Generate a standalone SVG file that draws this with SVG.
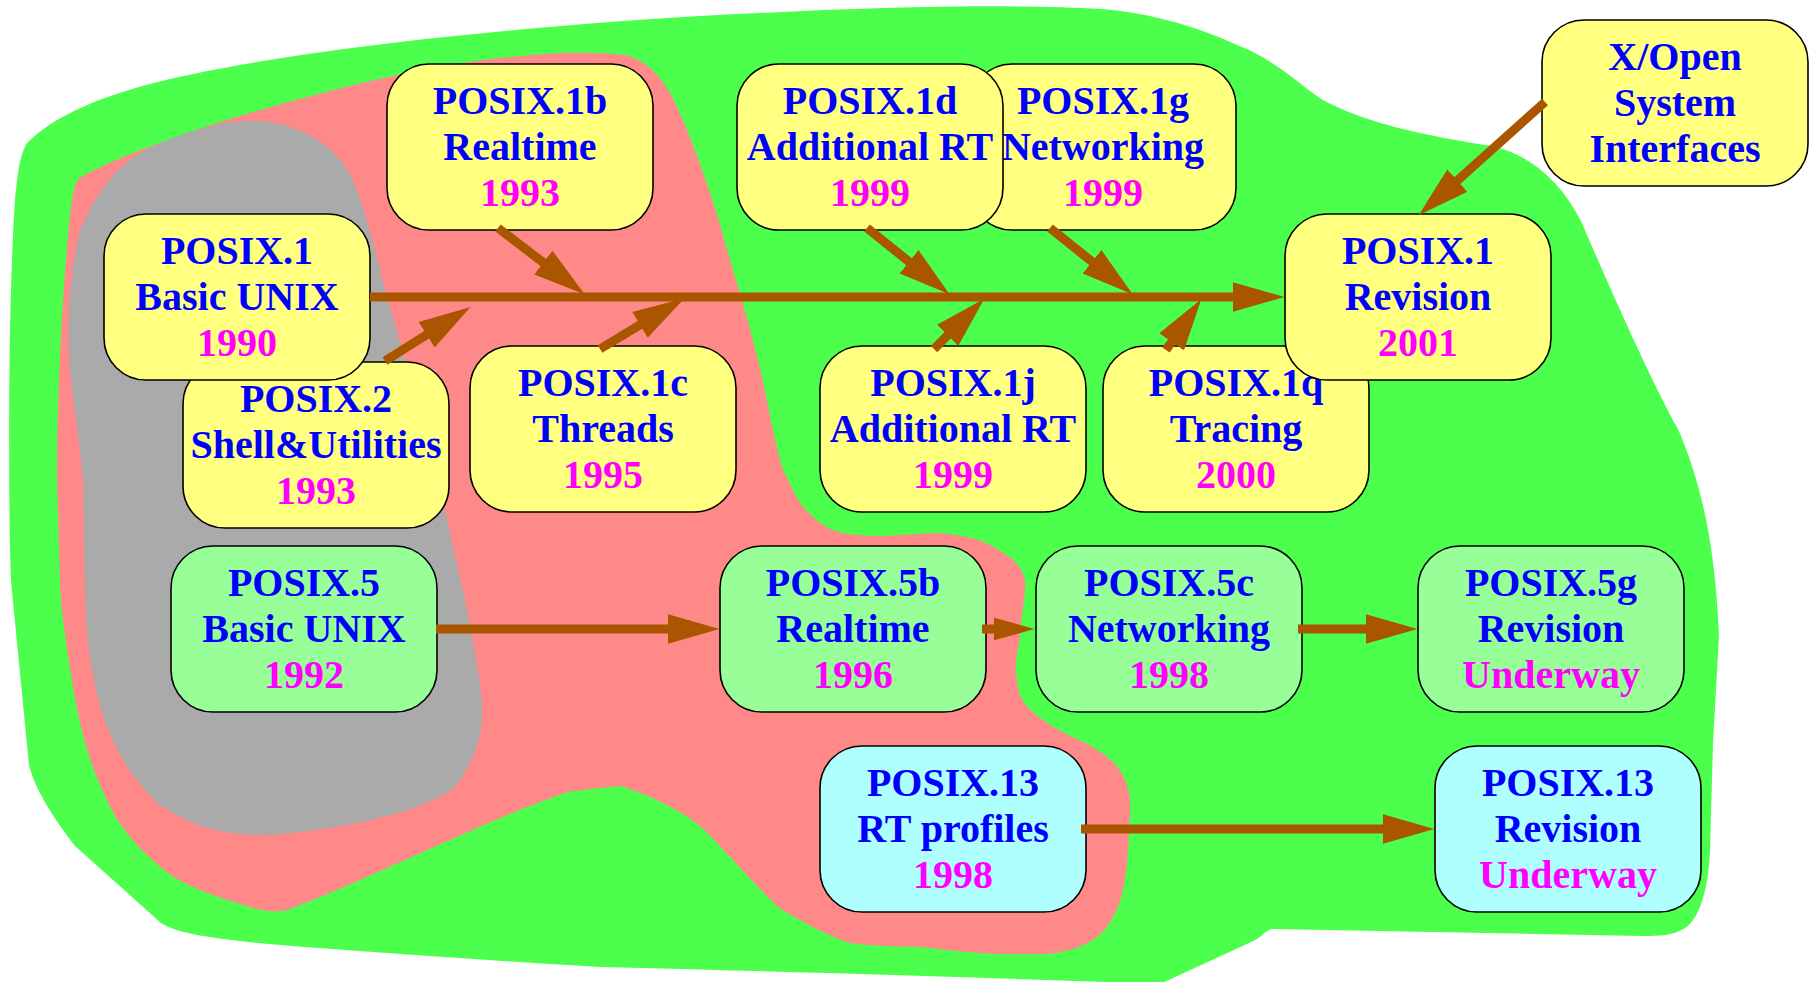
<svg xmlns="http://www.w3.org/2000/svg" width="1809" height="982" viewBox="0 0 1809 982">
<defs>
<style>
.box{stroke:#000;stroke-width:1.6}
.y{fill:#ffff80}
.g{fill:#98ff98}
.c{fill:#b0ffff}
text{font-family:"Liberation Serif","Times New Roman",serif;font-weight:bold;font-size:40px;text-anchor:middle}
.t{fill:#0000ff}
.d{fill:#ff00ff}
.conn{stroke:#aa5500;stroke-width:9;fill:none}
</style>
<marker id="ah" markerUnits="userSpaceOnUse" viewBox="0 -16 54 32" refX="0.5" refY="0" markerWidth="54" markerHeight="32" orient="auto">
<path d="M0,-15 L52,0 L0,15 Z" fill="#aa5500"/>
</marker>
<marker id="ahs" markerUnits="userSpaceOnUse" viewBox="0 -13 43 26" refX="0.5" refY="0" markerWidth="43" markerHeight="26" orient="auto">
<path d="M0,-11.5 L41,0 L0,11.5 Z" fill="#aa5500"/>
</marker>
</defs>
<rect width="1809" height="982" fill="#ffffff"/>
<g id="background">
<path fill="#4dff4d" d="M27,143 C60,110 120,90 179,77 C300,50 500,28 700,16 C850,8 1000,3 1102,9 C1170,15 1215,35 1249,50 C1290,70 1310,95 1331,104 C1360,118 1400,132 1492,146 C1530,155 1560,180 1581,221 C1600,265 1650,380 1678,429 C1700,480 1715,540 1719,636 L1713,743 L1710,851 C1708,890 1700,915 1688,926 C1675,936 1660,936 1642,936 L1272,929 C1265,930 1262,938 1249,943 L1160,984 C1000,978 800,972 600,967 C450,958 300,947 258,943 C200,937 175,932 161,923 L75,846 C55,820 35,790 29,765 L11,581 C8,500 8,300 15,200 C18,170 20,155 27,143 Z"/>
<path fill="#ff8888" d="M78,179 C100,165 150,145 223,121 C300,98 400,70 491,59 C540,54 580,50 625,55 C645,60 660,75 670,93 C685,120 715,200 727,250 C745,310 760,360 771,422 C778,450 780,465 786,476 C795,495 800,505 807,511 C820,525 830,530 843,533 C860,536 875,536 886,536 C905,535 925,533 939,533 C960,535 975,538 986,543 C1000,550 1012,558 1018,565 C1025,575 1026,582 1025,590 C1023,610 1020,625 1020,636 C1018,650 1015,660 1016,672 C1017,688 1020,698 1025,704 C1032,712 1040,718 1046,722 C1060,732 1080,740 1093,747 C1105,755 1115,762 1121,772 C1128,785 1131,795 1130,808 C1129,835 1128,860 1125,879 C1122,895 1120,905 1114,915 C1108,928 1100,935 1093,940 C1080,948 1062,953 1046,954 L993,954 C960,952 940,949 921,947 C890,946 870,946 850,943 C825,935 800,920 779,908 C755,885 725,850 700,826 C680,810 650,795 621,786 L600,788 C585,790 575,791 568,792 C530,805 490,822 459,836 C400,862 340,890 287,910 C275,913 260,911 247,906 C220,898 195,890 172,876 C150,860 130,840 115,816 C95,780 82,740 75,698 C65,640 60,600 60,581 L57,480 C57,400 62,300 67,250 C70,210 72,190 78,179 Z"/>
<path fill="#aaaaaa" d="M250,121 C290,120 330,140 348,171 C362,195 375,250 384,286 C392,315 398,335 402,350 C412,390 422,420 429,446 C440,490 448,520 453,547 C460,580 468,610 471,631 C477,665 483,695 482,715 C481,735 478,745 476,748 C470,765 462,780 453,789 C435,800 420,806 402,812 C375,820 345,826 321,829 C300,833 275,835 258,835 C235,834 215,831 201,826 C185,820 170,812 161,806 C145,792 135,778 126,765 C112,740 103,720 98,698 C90,665 87,640 86,614 C84,560 84,520 83,480 C80,440 72,400 69,357 C68,330 69,300 71,286 C73,262 76,245 80,232 C86,215 94,200 103,189 C112,175 122,165 134,157 C150,147 165,140 179,136 C205,127 225,121 250,121 Z"/>
</g>
<g id="nodes">
<g id="posix1b"><rect class="box y" x="387" y="64" width="266" height="166" rx="42"/><text class="t" x="520" y="114">POSIX.1b</text><text class="t" x="520" y="160">Realtime</text><text class="d" x="520" y="206">1993</text></g>
<g id="posix2"><rect class="box y" x="183" y="362" width="266" height="166" rx="42"/><text class="t" x="316" y="412">POSIX.2</text><text class="t" x="316" y="458">Shell&amp;Utilities</text><text class="d" x="316" y="504">1993</text></g>
<g id="posix1"><rect class="box y" x="104" y="214" width="266" height="166" rx="42"/><text class="t" x="237" y="264">POSIX.1</text><text class="t" x="237" y="310">Basic UNIX</text><text class="d" x="237" y="356">1990</text></g>
<g id="posix1c"><rect class="box y" x="470" y="346" width="266" height="166" rx="42"/><text class="t" x="603" y="396">POSIX.1c</text><text class="t" x="603" y="442">Threads</text><text class="d" x="603" y="488">1995</text></g>
<g id="posix1g"><rect class="box y" x="970" y="64" width="266" height="166" rx="42"/><text class="t" x="1103" y="114">POSIX.1g</text><text class="t" x="1103" y="160">Networking</text><text class="d" x="1103" y="206">1999</text></g>
<g id="posix1d"><rect class="box y" x="737" y="64" width="266" height="166" rx="42"/><text class="t" x="870" y="114">POSIX.1d</text><text class="t" x="870" y="160">Additional RT</text><text class="d" x="870" y="206">1999</text></g>
<g id="posix1j"><rect class="box y" x="820" y="346" width="266" height="166" rx="42"/><text class="t" x="953" y="396">POSIX.1j</text><text class="t" x="953" y="442">Additional RT</text><text class="d" x="953" y="488">1999</text></g>
<g id="posix1q"><rect class="box y" x="1103" y="346" width="266" height="166" rx="42"/><text class="t" x="1236" y="396">POSIX.1q</text><text class="t" x="1236" y="442">Tracing</text><text class="d" x="1236" y="488">2000</text></g>
<g id="posix1rev"><rect class="box y" x="1285" y="214" width="266" height="166" rx="42"/><text class="t" x="1418" y="264">POSIX.1</text><text class="t" x="1418" y="310">Revision</text><text class="d" x="1418" y="356">2001</text></g>
<g id="xopen"><rect class="box y" x="1542" y="20" width="266" height="166" rx="42"/><text class="t" x="1675" y="70">X/Open</text><text class="t" x="1675" y="116">System</text><text class="t" x="1675" y="162">Interfaces</text></g>
<g id="posix5"><rect class="box g" x="171" y="546" width="266" height="166" rx="42"/><text class="t" x="304" y="596">POSIX.5</text><text class="t" x="304" y="642">Basic UNIX</text><text class="d" x="304" y="688">1992</text></g>
<g id="posix5b"><rect class="box g" x="720" y="546" width="266" height="166" rx="42"/><text class="t" x="853" y="596">POSIX.5b</text><text class="t" x="853" y="642">Realtime</text><text class="d" x="853" y="688">1996</text></g>
<g id="posix5c"><rect class="box g" x="1036" y="546" width="266" height="166" rx="42"/><text class="t" x="1169" y="596">POSIX.5c</text><text class="t" x="1169" y="642">Networking</text><text class="d" x="1169" y="688">1998</text></g>
<g id="posix5g"><rect class="box g" x="1418" y="546" width="266" height="166" rx="42"/><text class="t" x="1551" y="596">POSIX.5g</text><text class="t" x="1551" y="642">Revision</text><text class="d" x="1551" y="688">Underway</text></g>
<g id="posix13"><rect class="box c" x="820" y="746" width="266" height="166" rx="42"/><text class="t" x="953" y="796">POSIX.13</text><text class="t" x="953" y="842">RT profiles</text><text class="d" x="953" y="888">1998</text></g>
<g id="posix13rev"><rect class="box c" x="1435" y="746" width="266" height="166" rx="42"/><text class="t" x="1568" y="796">POSIX.13</text><text class="t" x="1568" y="842">Revision</text><text class="d" x="1568" y="888">Underway</text></g>
</g>
<g id="connectors">
<line class="conn" x1="370" y1="297" x2="1233" y2="297" marker-end="url(#ah)"/>
<line class="conn" x1="498" y1="228" x2="543.7" y2="262.9" marker-end="url(#ah)"/>
<line class="conn" x1="385" y1="361" x2="427" y2="334.5" marker-end="url(#ah)"/>
<line class="conn" x1="600" y1="349" x2="640.4" y2="324.7" marker-end="url(#ah)"/>
<line class="conn" x1="867" y1="228" x2="909.4" y2="262" marker-end="url(#ah)"/>
<line class="conn" x1="1050" y1="228" x2="1092.4" y2="262" marker-end="url(#ah)"/>
<line class="conn" x1="934" y1="349" x2="947.9" y2="335.1" marker-end="url(#ah)"/>
<line class="conn" x1="1166" y1="350" x2="1171.9" y2="341.5" marker-end="url(#ah)"/>
<line class="conn" x1="1545" y1="102" x2="1457" y2="180.8" marker-end="url(#ah)"/>
<line class="conn" x1="436" y1="629" x2="668" y2="629" marker-end="url(#ah)"/>
<line class="conn" x1="982" y1="629" x2="994" y2="629" marker-end="url(#ahs)"/>
<line class="conn" x1="1298" y1="629" x2="1366" y2="629" marker-end="url(#ah)"/>
<line class="conn" x1="1081" y1="829" x2="1383" y2="829" marker-end="url(#ah)"/>
</g>
</svg>
